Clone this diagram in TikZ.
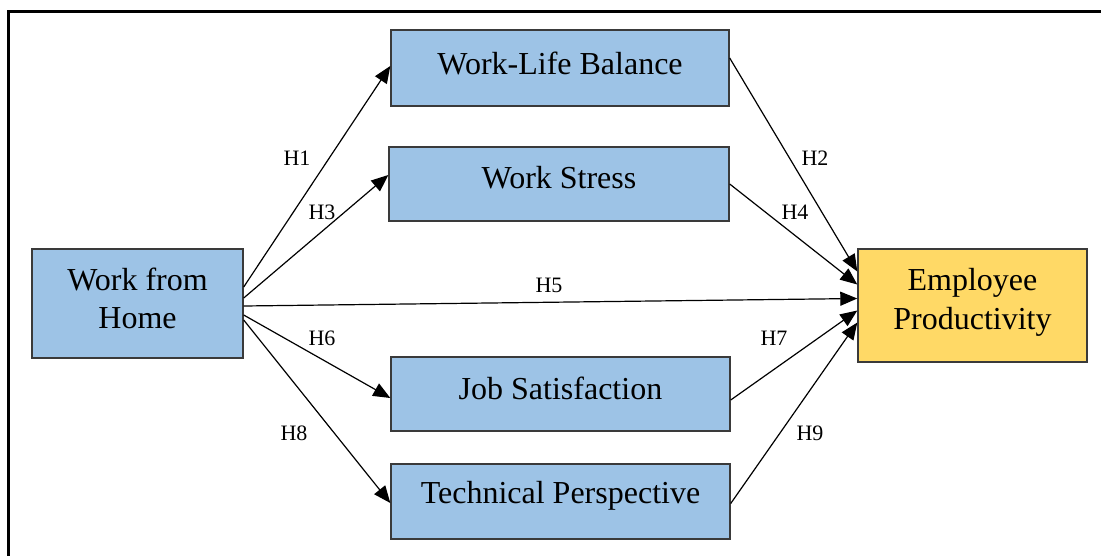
\documentclass[tikz,border=0pt]{standalone}
\usepackage{fontspec}
\setmainfont{Liberation Serif}
\usetikzlibrary{arrows.meta}
\definecolor{boxblue}{HTML}{9DC3E6}
\definecolor{boxgold}{HTML}{FFD966}
\definecolor{edge}{HTML}{3A3A3A}
\tikzset{
  construct/.style={draw=edge, line width=1.4pt, fill=boxblue, inner sep=0pt},
  outcome/.style={construct, fill=boxgold},
  caption/.style={align=center, inner sep=0pt, font=\fontsize{32}{38.5}\selectfont},
  path/.style={line width=1.2pt, -{Triangle[length=17pt,width=14pt]}},
  hyp/.style={font=\fontsize{22}{26}\selectfont, inner sep=0pt}
}
\begin{document}
\begin{tikzpicture}[x=1pt,y=-1pt]
\useasboundingbox (0,0) rectangle (1101,555);
% outer frame, running off the right and bottom edges
\draw[line width=3pt] (8,11) rectangle (1130,590);

% constructs
\node[construct, minimum width=211pt, minimum height=109pt] (wfh) at (137.5,303.5) {};
\node[construct, minimum width=338pt, minimum height=76pt] (wlb) at (560,68) {};
\node[construct, minimum width=340pt, minimum height=74pt] (ws) at (559,184) {};
\node[construct, minimum width=339pt, minimum height=74pt] (js) at (560.5,394) {};
\node[construct, minimum width=339pt, minimum height=75pt] (tp) at (560.5,501.5) {};
\node[outcome, minimum width=229pt, minimum height=113pt] (ep) at (972.5,305.5) {};

% construct names, set slightly above the box centres
\node[caption] (twfh) at ([yshift=5pt]wfh.center) {Work from\\Home};
\node[caption] (twlb) at ([yshift=5pt]wlb.center) {Work-Life Balance};
\node[caption] (tws) at ([yshift=6pt]ws.center) {Work Stress};
\node[caption] (tjs) at ([yshift=6pt]js.center) {Job Satisfaction};
\node[caption] (ttp) at ([yshift=6pt]tp.center) {Technical Perspective};
\node[caption] (tep) at ([yshift=3pt]ep.center) {Employee\\Productivity};

% hypothesised paths
\draw[path] ([yshift=16.5pt]wfh.east) -- ([yshift=2pt]wlb.west);
\draw[path] ([yshift=5.5pt]wfh.east) -- ([yshift=9pt]ws.west);
\draw[path] ([yshift=-2.5pt]wfh.east) -- ([yshift=7pt]ep.west);
\draw[path] ([yshift=-11.5pt]wfh.east) -- ([yshift=-4pt]js.west);
\draw[path] ([yshift=-16.5pt]wfh.east) -- ([yshift=-1.5pt]tp.west);
\draw[path] ([yshift=10pt]wlb.east) -- ([yshift=34pt]ep.west);
\draw[path] (ws.east) -- ([yshift=21pt]ep.west);
\draw[path] ([yshift=-6pt]js.east) -- ([yshift=-5pt]ep.west);
\draw[path] ([yshift=-2pt]tp.east) -- ([yshift=-17pt]ep.west);

% hypothesis labels
\node[hyp] (h1) at (297,158) {H1};
\node[hyp] (h2) at (815,158) {H2};
\node[hyp] (h3) at (322,212) {H3};
\node[hyp] (h4) at (795,212) {H4};
\node[hyp] (h5) at (549,285) {H5};
\node[hyp] (h6) at (322,338) {H6};
\node[hyp] (h7) at (774,338) {H7};
\node[hyp] (h8) at (294,433) {H8};
\node[hyp] (h9) at (810,433) {H9};
\end{tikzpicture}
\end{document}
